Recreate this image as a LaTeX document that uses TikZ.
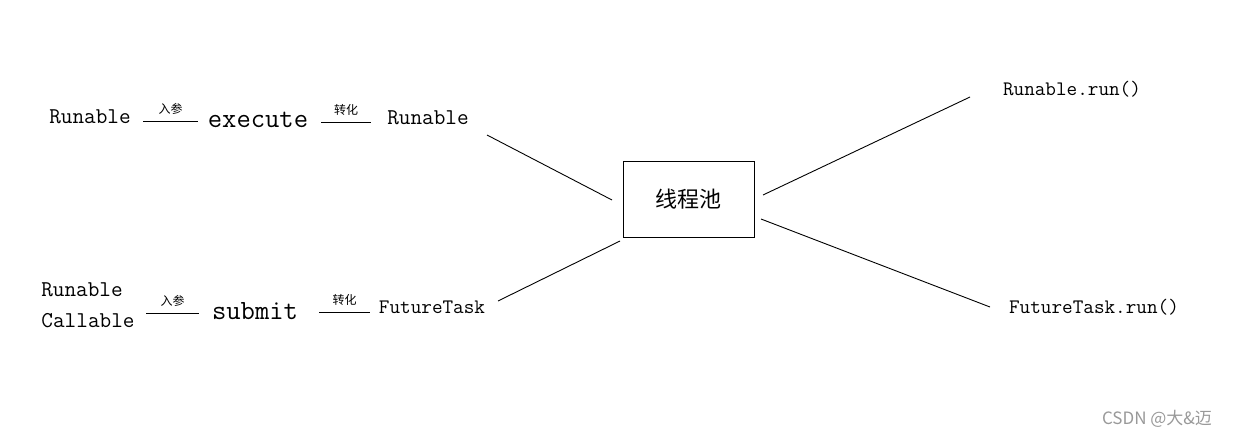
\documentclass[tikz,border=0pt]{standalone}
\usepackage{fontspec}
\newfontfamily\cjk{Noto Sans CJK SC}
\begin{document}
\begin{tikzpicture}[x=1pt,y=-1pt,
  lbl/.style={inner sep=0pt,font=\ttfamily\fontsize{22.6}{26}\selectfont},
  big/.style={inner sep=0pt,font=\ttfamily\fontsize{27.8}{32}\selectfont},
  sml/.style={inner sep=0pt,font=\ttfamily\fontsize{20.6}{24}\selectfont},
  tag/.style={inner sep=0pt,font=\cjk\fontsize{12}{14}\selectfont},
  ln/.style={line width=0.9pt}]
\useasboundingbox (0,0) rectangle (1235,437);
% top row
\node[lbl] (r1) at (90,117) {Runable};
\coordinate (a1) at (143,121); \coordinate (b1) at (198,121);
\draw[ln] (a1) -- node[tag,above=6pt] (t1) {入参} (b1);
\node[big] (ex) at (258,120) {execute};
\coordinate (a2) at (321,122); \coordinate (b2) at (371,122);
\draw[ln] (a2) -- node[tag,above=6pt] (t2) {转化} (b2);
\node[lbl] (r2) at (428,118) {Runable};
% pool
\node[draw,line width=0.9pt,minimum width=131pt,minimum height=76pt,inner sep=0pt,
  font=\cjk\fontsize{22}{26}\selectfont] (pool) at (688.5,199) {线程池};
% bottom row
\node[lbl] (r3) at (82,290) {Runable};
\node[lbl] (c3) at (88,321) {Callable};
\coordinate (a3) at (146,313); \coordinate (b3) at (199,313);
\draw[ln] (a3) -- node[tag,above=6pt] (t3) {入参} (b3);
\node[big] (sb) at (255,311) {submit};
\coordinate (a4) at (319,312); \coordinate (b4) at (370,312);
\draw[ln] (a4) -- node[tag,above=6pt] (t4) {转化} (b4);
\node[sml] (ft) at (432,307) {FutureTask};
% right side
\node[sml] (rr) at (1072,89) {Runable.run()};
\node[sml] (fr) at (1094,307) {FutureTask.run()};
% connectors
\coordinate (p1) at (487,135); \coordinate (q1) at (612,200);
\draw[ln] (p1) -- (q1);
\coordinate (p2) at (498,301); \coordinate (q2) at (620,241);
\draw[ln] (p2) -- (q2);
\coordinate (p3) at (763,195); \coordinate (q3) at (970,97);
\draw[ln] (p3) -- (q3);
\coordinate (p4) at (761,219); \coordinate (q4) at (990,307);
\draw[ln] (p4) -- (q4);
% watermark
\node[inner sep=0pt,text=black!40,font=\cjk\fontsize{17}{20}\selectfont] (wm) at (1157,419) {CSDN @大\&迈};
\end{tikzpicture}
\end{document}
